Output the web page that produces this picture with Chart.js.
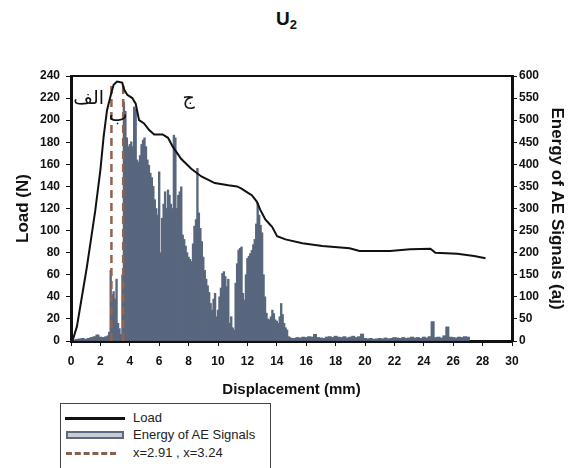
<!DOCTYPE html>
<html>
<head>
<meta charset="utf-8">
<script src="https://cdn.jsdelivr.net/npm/chart.js@4.4.1/dist/chart.umd.min.js"></script>
<style>
  body { margin: 0; background: #fff; font-family: "Liberation Sans", Arial, sans-serif; }
  #wrap { position: relative; width: 573px; height: 468px; }
  #box { position: absolute; left: 0; top: 0; width: 573px; height: 400px; }
  #title { position: absolute; left: 0; top: 8px; width: 573px; text-align: center;
           font-weight: bold; font-size: 19px; color: #111; }
  #title sub { font-size: 13px; vertical-align: -4px; }
  #legend { position: absolute; left: 60px; top: 403px; width: 211px; height: 70px;
            border: 1px solid #444; box-sizing: border-box; font-size: 13px; color: #222; }
  .row { position: absolute; left: 0; width: 100%; height: 16px; }
  .row span { position: absolute; left: 72px; top: 0; line-height: 16px; }
  .smp { position: absolute; left: 4px; }
</style>
</head>
<body>
<div id="wrap">
  <div id="title">U<sub>2</sub></div>
  <div id="box"><canvas id="chart"></canvas></div>
  <div id="legend">
    <div class="row" style="top:6px">
      <div class="smp" style="top:7px;width:60px;height:3px;background:#111"></div>
      <span>Load</span>
    </div>
    <div class="row" style="top:23px">
      <div class="smp" style="left:5px;top:4px;width:54px;height:4px;background:#c9ccd3;border:2px solid #5c6a84"></div>
      <span>Energy of AE Signals</span>
    </div>
    <div class="row" style="top:41px">
      <div class="smp" style="left:5px;top:7px;width:50px;height:0;border-top:3px dashed #8a5e4c"></div>
      <span>x=2.91 , x=3.24</span>
    </div>
  </div>
</div>
<script>
// LOAD CURVE (N vs mm)
const loadDisp = [0.1, 0.4, 1.08, 1.65, 2.0, 2.22, 2.45, 2.73, 2.9, 3.13, 3.48, 3.64, 3.83, 4.17, 4.4,
  4.63, 4.97, 5.32, 5.66, 6.23, 6.6, 6.92, 7.49, 8.18, 8.87, 9.78, 10.7, 11.3, 11.6, 12.07,
  12.3, 12.65, 12.87, 13.22, 13.5, 13.68, 14.02, 14.59, 15.74, 17.1, 18.95, 19.63, 21.7, 23.07, 24.45,
  24.79, 26.28, 27.42, 28.2];
const loadN = [0, 13, 67, 118, 155, 185, 209, 224, 232, 235, 234, 227, 223, 220, 215,
  200, 197, 191, 187, 187, 184, 176, 165, 156, 149, 143, 141, 140, 138, 134,
  132, 126, 119, 110, 106, 103.5, 95, 92, 88.5, 86, 84, 81.5, 81.5, 83, 83.6,
  80, 79, 77, 75];

// AE ENERGY (aj vs mm)
const aeDisp = [0.2, 0.4, 0.6, 0.8, 1.0, 1.2, 1.4, 1.6, 1.8, 2.0, 2.2, 2.4,
  2.5, 2.6, 2.7, 2.8, 2.9, 3.0, 3.1, 3.2, 3.3, 3.4,
  3.5, 3.6, 3.7, 3.8, 3.9, 4.0, 4.1, 4.2, 4.3, 4.4,
  4.5, 4.6, 4.7, 4.8, 4.9, 5.0, 5.1, 5.2, 5.3, 5.4,
  5.5, 5.6, 5.7, 5.8, 5.9, 6.0, 6.1, 6.2, 6.3, 6.4,
  6.5, 6.6, 6.7, 6.8, 6.9, 7.0, 7.1, 7.2, 7.3, 7.4,
  7.5, 7.6, 7.7, 7.8, 7.9, 8.0, 8.1, 8.2, 8.3, 8.4,
  8.5, 8.6, 8.7, 8.8, 8.9, 9.0, 9.1, 9.2, 9.3, 9.4,
  9.5, 9.6, 9.7, 9.8, 9.9, 10.0, 10.1, 10.2, 10.3, 10.4,
  10.5, 10.6, 10.7, 10.8, 10.9, 11.0, 11.1, 11.2, 11.3, 11.4,
  11.5, 11.6, 11.7, 11.8, 11.9, 12.0, 12.1, 12.2, 12.3, 12.4,
  12.5, 12.6, 12.7, 12.8, 12.9, 13.0, 13.1, 13.2, 13.3, 13.4,
  13.5, 13.6, 13.7, 13.8, 13.9, 14.0, 14.1, 14.2, 14.3, 14.4,
  14.5, 14.6, 14.7, 14.8, 14.9, 15.0,
  15.2, 15.4, 15.6, 15.8, 16.0, 16.2, 16.4, 16.6, 16.8, 17.0,
  17.2, 17.4, 17.6, 17.8, 18.0, 18.2, 18.4, 18.6, 18.8, 19.0,
  19.2, 19.4, 19.6, 19.8, 20.0, 20.2, 20.4, 20.6, 20.8, 21.0,
  21.2, 21.4, 21.6, 21.8, 22.0, 22.2, 22.4, 22.6, 22.8, 23.0,
  23.2, 23.4, 23.6, 23.8, 24.0, 24.2, 24.4, 24.6, 24.8, 25.0,
  25.2, 25.4, 25.6, 25.8, 26.0, 26.2, 26.4, 26.6, 26.8, 27.0];
const aeEnergy = [2, 4, 5, 6, 4, 6, 8, 10, 14, 9, 8, 10,
  12, 20, 160, 105, 112, 95, 140, 40, 28, 15,
  150, 540, 520, 460, 440, 445, 451, 440, 530, 525,
  410, 405, 420, 445, 455, 460, 440, 410, 398, 380,
  370, 350, 320, 300, 285, 383, 200, 278, 310, 338,
  300, 342, 330, 310, 300, 466, 460, 300, 330, 338,
  349, 240, 230, 215, 200, 190, 185, 180, 220, 260,
  275, 391, 290, 255, 225, 190, 160, 140, 125, 110,
  85, 70, 95, 108, 55, 70, 100, 120, 153, 157,
  146, 123, 140, 40, 55, 30, 25, 131, 175, 206,
  210, 213, 108, 93, 150, 187, 192, 198, 205, 218,
  230, 265, 312, 285, 262, 245, 150, 100, 63, 50,
  48, 55, 70, 62, 48, 45, 40, 55, 85, 60,
  40, 30, 25, 10, 8, 6,
  6, 8, 7, 9, 8, 10, 9, 15, 8, 7,
  6, 9, 10, 8, 11, 9, 8, 10, 7, 9,
  11, 8, 10, 16, 6, 5, 6, 4, 5, 6,
  5, 7, 5, 6, 8, 7, 6, 8, 6, 7,
  9, 7, 8, 6, 9, 7, 10, 44, 8, 9,
  7, 12, 32, 9, 8, 7, 9, 8, 10, 9];

// DASHED MARKERS
const markerX = [2.75, 3.55];
const markerTop = 235;

// TEXT LABELS ON THE PLOT
const notes = [
  { text: "الف", x: 1.2, y: 219, size: 19 },
  { text: "ب", x: 3.2, y: 204, size: 20 },
  { text: "ج", x: 8.0, y: 219, size: 19 }
];

const INK = "#111";

const notesPlugin = {
  id: "notes",
  afterDatasetsDraw(chart) {
    const ctx = chart.ctx;
    const xs = chart.scales.x;
    const ys = chart.scales.y;
    ctx.save();
    ctx.fillStyle = INK;
    ctx.textAlign = "center";
    ctx.textBaseline = "middle";
    notes.forEach(n => {
      ctx.font = `${n.size}px "DejaVu Sans"`;
      ctx.fillText(n.text, xs.getPixelForValue(n.x), ys.getPixelForValue(n.y));
    });
    ctx.restore();
  }
};

const tickFont = { family: "Liberation Sans", size: 12, weight: "bold" };

const datasets = [{
  type: "line",
  label: "Load",
  data: loadDisp.map((x, i) => ({ x: x, y: loadN[i] })),
  yAxisID: "y",
  borderColor: INK,
  borderWidth: 2,
  pointRadius: 0,
  tension: 0,
  order: 1
}];

markerX.forEach(mx => {
  datasets.push({
    type: "line",
    label: "marker",
    data: [{ x: mx, y: 0 }, { x: mx, y: markerTop }],
    yAxisID: "y",
    borderColor: "#93634f",
    borderWidth: 2.5,
    borderDash: [8, 5],
    pointRadius: 0,
    order: 2
  });
});

datasets.push({
  type: "bar",
  label: "Energy of AE Signals",
  data: aeDisp.map((x, i) => ({ x: x, y: aeEnergy[i] })),
  yAxisID: "y2",
  backgroundColor: "#58667e",
  borderWidth: 0,
  barThickness: "flex",
  categoryPercentage: 1,
  barPercentage: 1.15,
  order: 3
});

new Chart(document.getElementById("chart"), {
  data: { datasets: datasets },
  plugins: [notesPlugin],
  options: {
    responsive: true,
    maintainAspectRatio: false,
    animation: false,
    layout: { padding: { top: 76, left: 0, right: 0, bottom: 0 } },
    plugins: { legend: { display: false }, tooltip: { enabled: false } },
    scales: {
      x: {
        type: "linear", position: "bottom", min: 0, max: 30, offset: false,
        afterFit: s => { s.height = 59; },
        ticks: { stepSize: 2, font: tickFont, color: INK, padding: 8, maxRotation: 0 },
        grid: { drawOnChartArea: false, tickLength: 5, color: INK, offset: false },
        border: { color: INK, width: 3 },
        title: { display: true, text: "Displacement (mm)", color: INK,
                 font: { family: "Liberation Sans", size: 15, weight: "bold" }, padding: { top: 0, bottom: 1 } }
      },
      x2: {
        type: "linear", position: "top", min: 0, max: 30,
        afterFit: s => { s.height = 0; },
        ticks: { display: false },
        grid: { drawOnChartArea: false, drawTicks: false },
        border: { color: INK, width: 2 }
      },
      y: {
        type: "linear", position: "left", min: 0, max: 240,
        afterFit: s => { s.width = 71; },
        ticks: { stepSize: 20, font: tickFont, color: INK, padding: 6 },
        grid: { drawOnChartArea: false, tickLength: 5, color: INK },
        border: { color: INK, width: 3 },
        title: { display: true, text: "Load (N)", color: INK,
                 font: { family: "Liberation Sans", size: 17, weight: "bold" }, padding: { top: 13, bottom: 0 } }
      },
      y2: {
        type: "linear", position: "right", min: 0, max: 600,
        afterFit: s => { s.width = 61; },
        ticks: { stepSize: 50, font: tickFont, color: INK, padding: 2 },
        grid: { drawOnChartArea: false, tickLength: 5, color: INK },
        border: { color: INK, width: 3 },
        title: { display: true, text: "Energy of AE Signals (aj)", color: INK,
                 font: { family: "Liberation Sans", size: 17, weight: "bold" }, padding: { top: 6, bottom: 0 } }
      }
    }
  }
});
</script>
</body>
</html>
